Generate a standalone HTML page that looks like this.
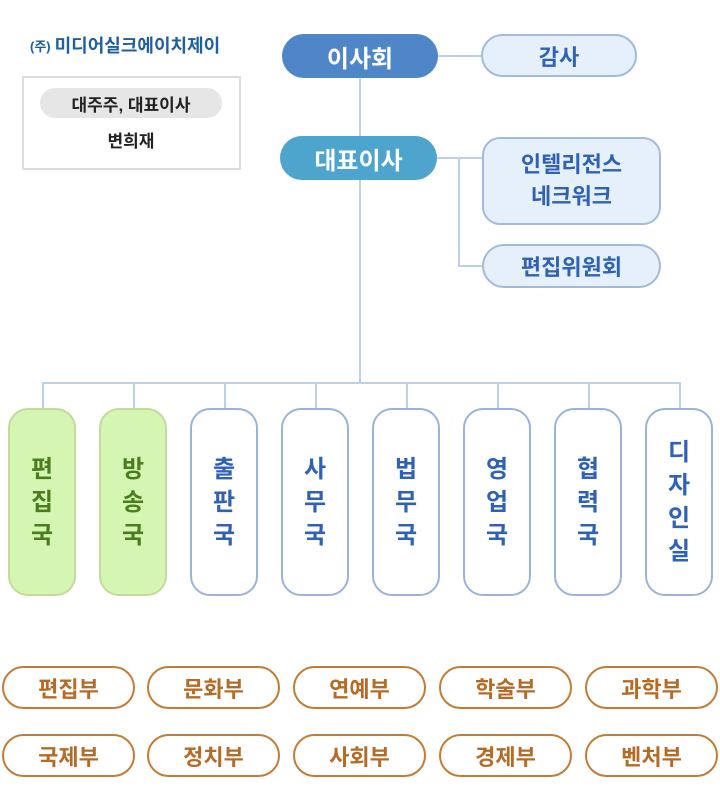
<!DOCTYPE html>
<html><head><meta charset="utf-8"><style>
body{margin:0;width:720px;height:812px;background:#fff;position:relative;font-family:"Liberation Sans","Noto Sans CJK KR",sans-serif;font-weight:bold;overflow:hidden}
.a{position:absolute;box-sizing:border-box;display:flex;align-items:center;justify-content:center;text-align:center}
.l{position:absolute;background:#bcd0ea}
.col{top:408px;height:188px;width:68px;border-radius:20px;border:2px solid #9ab4d8;background:#fff;color:#2f62b4;font-size:24px;line-height:33px;flex-direction:column}
.g{background:#d5f6b2;border-color:#c4da9e;color:#4b7d1e}
.p{width:133px;height:43px;border:2px solid #c47c34;border-radius:22px;color:#b56b26;font-size:22px}
.bl{background:#e6f0fb;border:2px solid #a3bbdb;color:#2f62b4;font-size:22px}
</style></head><body>
<div class="a" style="left:30px;top:32px;width:215px;height:26px;color:#1e5fa0;font-size:18px;justify-content:flex-start"><span style="font-size:13px;margin-right:4px">(주)</span>미디어실크에이치제이</div>
<div class="a" style="left:22px;top:76px;width:219px;height:94px;border:2px solid #ddd"></div>
<div class="a" style="left:40px;top:88px;width:182px;height:30px;background:#e6e6e6;border-radius:15px;font-size:17px;color:#222">대주주, 대표이사</div>
<div class="a" style="left:40px;top:125px;width:182px;height:28px;font-size:17px;color:#222">변희재</div>

<div class="l" style="left:438px;top:55px;width:44px;height:2px"></div>
<div class="l" style="left:359px;top:78px;width:2px;height:306px"></div>
<div class="l" style="left:437px;top:157px;width:45px;height:2px"></div>
<div class="l" style="left:458px;top:157px;width:2px;height:110px"></div>
<div class="l" style="left:458px;top:265px;width:24px;height:2px"></div>
<div class="l" style="left:42px;top:382px;width:639px;height:2px"></div>
<div class="l" style="left:42px;top:382px;width:2px;height:26px"></div>
<div class="l" style="left:133px;top:382px;width:2px;height:26px"></div>
<div class="l" style="left:224px;top:382px;width:2px;height:26px"></div>
<div class="l" style="left:315px;top:382px;width:2px;height:26px"></div>
<div class="l" style="left:406px;top:382px;width:2px;height:26px"></div>
<div class="l" style="left:497px;top:382px;width:2px;height:26px"></div>
<div class="l" style="left:588px;top:382px;width:2px;height:26px"></div>
<div class="l" style="left:679px;top:382px;width:2px;height:26px"></div>

<div class="a" style="left:282px;top:34px;width:156px;height:44px;border-radius:22px;background:#4f86c8;color:#fff;font-size:24px">이사회</div>
<div class="a bl" style="left:481px;top:34px;width:156px;height:43px;border-radius:22px">감사</div>
<div class="a" style="left:280px;top:136px;width:157px;height:44px;border-radius:22px;background:#4da5cd;color:#fff;font-size:24px">대표이사</div>
<div class="a bl" style="left:482px;top:137px;width:179px;height:88px;border-radius:18px;line-height:32px">인텔리전스<br>네크워크</div>
<div class="a bl" style="left:482px;top:244px;width:179px;height:44px;border-radius:22px">편집위원회</div>

<div class="a col g" style="left:8px">편<br>집<br>국</div>
<div class="a col g" style="left:99px">방<br>송<br>국</div>
<div class="a col" style="left:190px">출<br>판<br>국</div>
<div class="a col" style="left:281px">사<br>무<br>국</div>
<div class="a col" style="left:372px">법<br>무<br>국</div>
<div class="a col" style="left:463px">영<br>업<br>국</div>
<div class="a col" style="left:554px">협<br>력<br>국</div>
<div class="a col" style="left:645px">디<br>자<br>인<br>실</div>

<div class="a p" style="left:2px;top:666px">편집부</div>
<div class="a p" style="left:147px;top:666px">문화부</div>
<div class="a p" style="left:293px;top:666px">연예부</div>
<div class="a p" style="left:439px;top:666px">학술부</div>
<div class="a p" style="left:585px;top:666px">과학부</div>
<div class="a p" style="left:2px;top:734px">국제부</div>
<div class="a p" style="left:147px;top:734px">정치부</div>
<div class="a p" style="left:293px;top:734px">사회부</div>
<div class="a p" style="left:439px;top:734px">경제부</div>
<div class="a p" style="left:585px;top:734px">벤처부</div>
</body></html>
